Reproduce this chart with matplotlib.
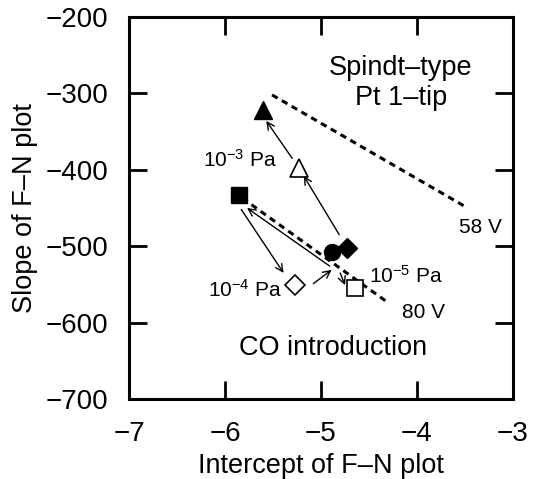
import matplotlib
matplotlib.use("Agg")
import matplotlib.pyplot as plt

plt.rcParams['font.family'] = ['Liberation Sans', 'DejaVu Sans']
plt.rcParams['mathtext.fontset'] = 'custom'
plt.rcParams['mathtext.rm'] = 'Liberation Sans'
plt.rcParams['mathtext.it'] = 'Liberation Sans:italic'
plt.rcParams['mathtext.bf'] = 'Liberation Sans:bold'

# marker positions (intercept, slope)
filled_tri = (-5.60, -322)
open_tri = (-5.23, -397)
filled_sq = (-5.85, -433)
filled_circ = (-4.89, -507)
filled_dia = (-4.73, -502)
open_dia = (-5.27, -551)
open_sq = (-4.65, -555)

# dashed reference lines
line_58v_x = [-5.51, -3.50]
line_58v_y = [-302, -448]
line_80v_x = [-5.82, -4.30]
line_80v_y = [-437, -574]

# arrows: (start, end)
arrows = [
    ((-5.83, -452), (-5.39, -535)),
    ((-5.08, -549), (-4.89, -531)),
    ((-4.91, -526), (-5.77, -450)),
    ((-4.80, -535), (-4.75, -551)),
    ((-4.81, -485), (-5.18, -408)),
    ((-5.30, -385), (-5.57, -336)),
]

fig = plt.figure(figsize=(5.34, 4.79), dpi=100)
ax = fig.add_axes([129/534, 1 - 399/479, (513 - 129)/534, (399 - 17)/479])

ax.plot(line_58v_x, line_58v_y, ls=(0, (2.1, 1.6)), c="k", lw=2.2)
ax.plot(line_80v_x, line_80v_y, ls=(0, (2.1, 1.6)), c="k", lw=2.2)

for (x0, y0), (x1, y1) in arrows:
    ax.annotate("", xy=(x1, y1), xytext=(x0, y0),
                arrowprops=dict(arrowstyle="->", lw=1.0, color="k",
                                shrinkA=0, shrinkB=0, mutation_scale=13))

ms = 11.5
ax.plot(*filled_tri, marker="^", ms=ms + 1, c="k", mfc="k")
ax.plot(*open_tri, marker="^", ms=ms + 1, c="k", mfc="w", mew=1.2)
ax.plot(*filled_sq, marker="s", ms=ms, c="k", mfc="k")
ax.plot(*open_sq, marker="s", ms=ms, c="k", mfc="w", mew=1.2)
ax.plot(*filled_circ, marker="o", ms=ms, c="k", mfc="k")
ax.plot(*filled_dia, marker="D", ms=ms - 1, c="k", mfc="k")
ax.plot(*open_dia, marker="D", ms=ms - 1, c="k", mfc="w", mew=1.2)

ax.text(-4.17, -267, "Spindt\u2013type", ha="center", va="center", fontsize=19.5)
ax.text(-4.17, -306, "Pt 1\u2013tip", ha="center", va="center", fontsize=19.5)
ax.text(-5.84, -387, "10$^{-3}$ Pa", ha="center", va="center", fontsize=15)
ax.text(-5.79, -557, "10$^{-4}$ Pa", ha="center", va="center", fontsize=15)
ax.text(-4.11, -539, "10$^{-5}$ Pa", ha="center", va="center", fontsize=15)
ax.text(-3.34, -476, "58 V", ha="center", va="center", fontsize=15)
ax.text(-3.93, -587, "80 V", ha="center", va="center", fontsize=15)
ax.text(-4.87, -633, "CO introduction", ha="center", va="center", fontsize=19.5)

ax.set_xlim(-7, -3)
ax.set_ylim(-700, -200)
ax.set_xticks([-7, -6, -5, -4, -3])
ax.set_yticks([-700, -600, -500, -400, -300, -200])
ax.tick_params(direction="in", length=13, width=2, labelsize=20,
               top=True, right=True)
ax.tick_params(axis="x", pad=16)
ax.tick_params(axis="y", pad=15)
for s in ax.spines.values():
    s.set_linewidth(2.2)

ax.set_xlabel("Intercept of F\u2013N plot", fontsize=19.5, labelpad=4)
ax.set_ylabel("Slope of F\u2013N plot", fontsize=19.5, labelpad=5)

fig.savefig("out.png", dpi=100)
